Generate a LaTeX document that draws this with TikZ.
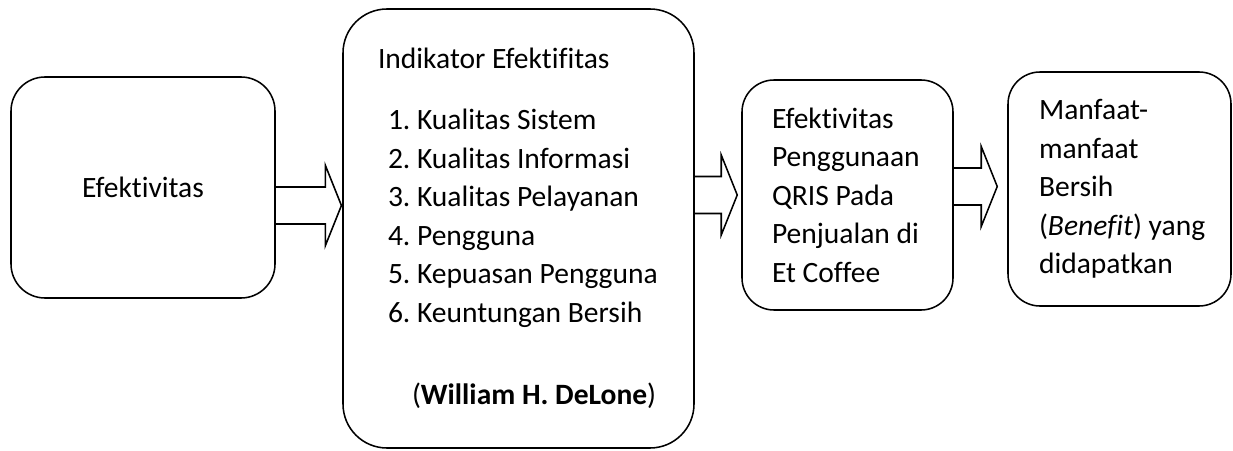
\documentclass[tikz,border=0pt]{standalone}
\usepackage{fontspec}
\setmainfont{Carlito}[Ligatures=NoCommon]
\usepackage{tikz}
\usetikzlibrary{calc}

% one line of a box, kept in one piece
\newcommand{\boxline}[2][0cm]{\hspace*{#1}\mbox{#2}}

\begin{document}
\begin{tikzpicture}[
  box/.style={draw, line width=1.1pt, rounded corners=#1,
    font=\fontsize{21}{27.4}\selectfont\frenchspacing},
  box/.default=0.8cm,
  blockarrow/.style={draw, line width=1.1pt, line join=miter}
]
  \def\shaft{0.4625} % half height of the arrow shaft
  \def\head{1.0}     % half height of the arrow head
  \def\hlen{0.4}     % length of the arrow head

  \useasboundingbox (0,0) rectangle (30.825,11.25);

  % Boxes
  \node[box=0.85cm, minimum width=6.6cm, minimum height=5.525cm] (efek) at (3.575,6.5625) {Efektivitas};

  \node[box=1.1cm, minimum height=10.975cm, text width=7.025cm, inner xsep=0.875cm, align=flush left] (indik) at (12.9625,5.5375) {
    \boxline{Indikator Efektifitas}\\[0.56cm]
    \boxline[0.25cm]{1. Kualitas Sistem}\\
    \boxline[0.25cm]{2. Kualitas Informasi}\\
    \boxline[0.25cm]{3. Kualitas Pelayanan}\\
    \boxline[0.25cm]{4. Pengguna}\\
    \boxline[0.25cm]{5. Kepuasan Pengguna}\\
    \boxline[0.25cm]{6. Keuntungan Bersih}\\[1.09cm]
    \boxline[0.85cm]{(\textbf{William H. DeLone})}};

  \node[box, minimum height=5.75cm, text width=3.775cm, inner xsep=0.75cm, align=flush left] (qris) at (21.1875,6.375) {
    Efektivitas\\ Penggunaan\\ \boxline{QRIS Pada}\\ \boxline{Penjualan di}\\ \boxline{Et Coffee}};

  \node[box, minimum height=5.85cm, text width=4.025cm, inner xsep=0.775cm, align=flush left] (manf) at (27.9875,6.525) {
    Manfaat-\\ manfaat\\ Bersih\\ \boxline{(\textit{Benefit}) yang}\\ didapatkan};

  % Block arrows between the boxes
  \foreach \src/\dst/\ym/\gap in {efek/indik/6.1125/0.02, indik/qris/6.375/0.1, qris/manf/6.5875/0.25}
    \draw[blockarrow] let \p1=(\src.east), \p2=(\dst.west) in
      (\x1,{(\ym+\shaft)*1cm}) -- ({\x2-(\gap+\hlen)*1cm},{(\ym+\shaft)*1cm})
      -- ({\x2-(\gap+\hlen)*1cm},{(\ym+\head)*1cm}) -- ({\x2-\gap*1cm},{\ym*1cm})
      -- ({\x2-(\gap+\hlen)*1cm},{(\ym-\head)*1cm}) -- ({\x2-(\gap+\hlen)*1cm},{(\ym-\shaft)*1cm})
      -- (\x1,{(\ym-\shaft)*1cm});
\end{tikzpicture}
\end{document}
